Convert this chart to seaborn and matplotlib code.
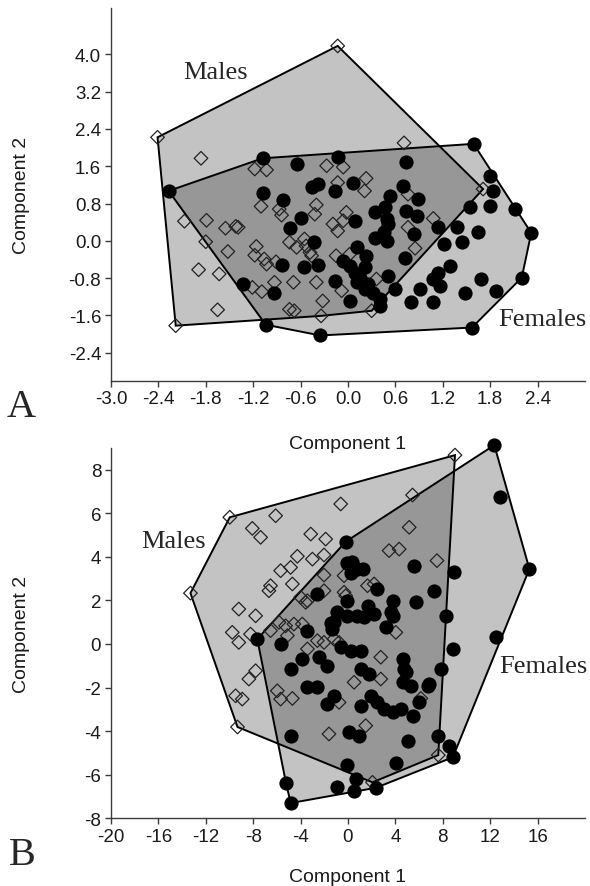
import numpy as np
import pandas as pd
import matplotlib
matplotlib.use("Agg")
import matplotlib.pyplot as plt
import seaborn as sns
from matplotlib.patches import Polygon

# ---- Panel A: component scores (Component 1, Component 2) ----
males_a_x = [-2.41, -0.13, 1.71, 0.30, -0.34, -2.18, -1.86, -1.18, -1.03, -2.07, -1.79, -1.55,
             -1.42, -1.39, -1.80, -1.52, -1.16, -1.18, -1.06, -1.03, -0.91, -1.10, -0.87, -0.84,
             -1.89, -1.63, -1.21, -1.09, -0.93, -0.69, -1.65, -0.74, -0.68, -0.74, -0.65, -0.53,
             -0.40, -0.42, -0.40, -0.32, -0.27, -0.46, 0.71, -0.06, -0.13, 0.23, 0.21, -0.02,
             -0.19, -0.06, -0.13, 0.76, 1.08, 0.76, 0.85, -0.15, 0.02, -0.55, -0.48, -0.08, 0.36]
males_a_y = [2.22, 4.18, 1.11, -1.50, -1.61, -1.82, 1.77, 1.54, 1.52, 0.42, 0.44, 0.27,
             0.31, 0.29, -0.02, -0.23, -0.12, -0.31, -0.39, -0.50, -0.45, 0.74, 0.68, 0.55,
             -0.62, -0.71, -1.00, -1.09, -0.89, -0.89, -1.48, -1.47, -1.50, -0.03, -0.14, -0.11,
             0.77, 0.57, -0.89, -1.29, 1.61, -0.32, 2.10, 1.58, 1.25, 1.34, 1.07, 0.61,
             0.36, 0.43, 0.21, 1.00, 0.48, 0.29, -0.16, -0.32, -0.29, 0.04, -0.25, -1.07, -0.82]

females_a_x = [-2.27, -1.08, 1.59, 2.12, 2.32, 2.20, 1.57, -0.35, -1.04, -1.33, -0.65, -0.46,
               -0.38, -1.08, -0.82, -0.59, -0.73, -0.43, -0.83, -0.56, -0.38, -0.93, -0.13, -0.17,
               0.06, 0.73, 0.70, 0.89, 0.53, 0.47, 0.34, 0.74, 0.87, 0.09, 0.51, 0.45,
               0.34, 0.49, 0.83, 0.11, 0.23, -0.06, 0.02, 0.09, 0.21, 0.72, -0.17, 0.51,
               0.11, 0.21, 0.32, 0.40, 0.02, 0.40, 0.59, 1.14, 1.38, 1.44, 1.21, 1.55,
               1.80, 1.84, 1.80, 1.65, 1.29, 1.14, 1.08, 1.16, 0.91, 0.80, 1.08, 1.69,
               1.48, 1.88, 0.15, 0.26, 0.49]
females_a_y = [1.07, 1.77, 2.08, 0.68, 0.17, -0.79, -1.86, -2.03, -1.80, -0.92, 1.65, 1.15,
               1.22, 1.02, 0.87, 0.48, 0.27, -0.03, -0.52, -0.57, -0.52, -1.13, 1.79, 1.07,
               1.25, 1.68, 1.18, 0.89, 0.97, 0.72, 0.61, 0.64, 0.54, 0.43, 0.36, 0.18,
               0.07, 0.00, 0.14, -0.14, -0.32, -0.43, -0.54, -0.68, -0.57, -0.36, -0.86, -0.75,
               -0.89, -1.04, -1.11, -1.25, -1.29, -1.39, -1.04, 0.29, 0.29, -0.03, -0.07, 0.72,
               1.39, 1.07, 0.75, 0.18, -0.54, -0.68, -0.82, -0.97, -1.04, -1.32, -1.32, -0.81,
               -1.11, -1.07, -0.79, -0.93, 0.47]

# ---- Panel B ----
males_b_x = [-9.97, 9.03, 7.62, 2.07, -9.32, -13.29, -6.10, -0.61, -8.07, -7.37, -3.14, -1.88,
             -4.27, -3.00, -2.02, -4.84, -5.68, -4.69, -6.53, -6.67, -2.02, -3.99, -3.42, -9.21,
             -7.79, -9.76, -9.21, -8.22, -6.53, -5.82, -4.56, -5.11, -3.42, -2.58, -2.02, -1.18,
             -7.79, -8.36, -9.48, -8.92, -5.96, -5.68, -4.69, -1.60, 0.52, -0.19, 1.50, 5.45,
             5.17, 3.47, 4.32, 7.51, -0.33, 1.65, 2.21, -0.33, 4.04, -0.75, 2.77, 2.77,
             6.15, -0.75, -3.57, -2.02, -5.26, -3.85]
males_b_y = [5.81, 8.66, -5.10, -6.35, -3.81, 2.33, 5.88, 6.42, 5.30, 4.89, 5.04, 4.81,
             4.02, 3.89, 4.08, 3.51, 3.36, 2.75, 2.67, 2.44, 3.16, 2.14, 1.98, 1.60,
             1.29, 0.53, 0.07, 0.45, 0.61, 0.99, 0.91, 0.38, -0.23, 0.15, 0.07, 0.22,
             -1.23, -1.61, -2.38, -2.53, -2.15, -2.53, -2.50, -4.13, -1.76, 2.21, -3.75, 6.83,
             5.35, 4.28, 4.35, 3.82, 3.13, 2.67, 2.75, 2.37, 0.53, 0.07, -0.61, -1.61,
             -2.50, -2.68, 1.91, 2.44, 0.83, 0.91]

females_b_x = [12.35, 12.86, 15.31, 12.49, 8.85, -4.83, -5.22, -7.65, -0.19, -2.58, -0.89, 0.52,
               0.70, 2.35, -0.04, 4.04, 8.55, 7.57, 5.03, 0.38, 0.80, 1.23, -0.04, 0.24,
               -0.04, -0.89, 0.80, 1.36, -3.42, -1.31, -5.68, -3.85, -4.84, -2.44, -1.73, -0.61,
               0.24, 1.08, 1.08, -3.42, -2.58, -1.73, -1.18, -4.84, 0.09, 0.94, 1.08, 2.49,
               3.76, 5.59, 5.73, 7.28, 8.97, 8.27, 8.83, 7.85, 6.72, -0.04, 2.21, 3.62,
               3.76, 3.20, 1.78, 4.61, 4.74, 4.61, 5.31, 1.93, 2.49, 3.05, 3.76, 4.46,
               5.45, 6.01, -1.45, 4.89, 6.86, 1.65, -1.18]
females_b_y = [9.12, 6.72, 3.44, 0.30, -5.20, -7.30, -6.40, 0.22, 4.69, 2.28, -6.55, -6.73,
               -6.20, -6.60, -5.57, -5.45, -4.67, -4.21, -4.44, 3.74, 3.44, 3.44, 3.70, 3.27,
               1.98, 1.45, 1.29, 1.22, 0.61, 0.68, 0.00, -0.69, -1.15, -0.61, -1.00, -0.16,
               -0.31, -0.31, -1.15, -1.99, -1.99, -2.76, -2.38, -4.21, -4.06, -4.21, -2.83, 2.52,
               1.98, 3.59, 1.91, 2.44, 3.28, 1.29, -0.23, -1.15, -1.92, 1.29, 1.37, 1.45,
               1.29, 0.76, -1.38, -0.69, -1.15, -1.76, -1.92, -2.38, -2.68, -2.99, -3.14, -2.99,
               -3.29, -2.68, 0.94, -1.30, -1.84, 1.75, 1.01]

ticks_a_x = [-3.0, -2.4, -1.8, -1.2, -0.6, 0.0, 0.6, 1.2, 1.8, 2.4]
ticks_a_y = [-2.4, -1.6, -0.8, 0.0, 0.8, 1.6, 2.4, 3.2, 4.0]
ticks_b_x = [-20, -16, -12, -8, -4, 0, 4, 8, 12, 16]
ticks_b_y = [-8, -6, -4, -2, 0, 2, 4, 6, 8]

LIGHT = "#c3c3c3"
DARK = "#979797"
AXCOL = "#3c3c3c"

sns.set_theme(style="white")
plt.rcParams["font.family"] = ["Liberation Sans", "DejaVu Sans"]


def convex_hull(xs, ys):
    pts = sorted(set(zip(xs, ys)))

    def cross(o, a, b):
        return (a[0] - o[0]) * (b[1] - o[1]) - (a[1] - o[1]) * (b[0] - o[0])

    lower, upper = [], []
    for p in pts:
        while len(lower) >= 2 and cross(lower[-2], lower[-1], p) <= 0:
            lower.pop()
        lower.append(p)
    for p in reversed(pts):
        while len(upper) >= 2 and cross(upper[-2], upper[-1], p) <= 0:
            upper.pop()
        upper.append(p)
    return lower[:-1] + upper[:-1]


def draw_panel(ax, mx, my, fx, fy):
    hm = convex_hull(mx, my)
    hf = convex_hull(fx, fy)
    pm = Polygon(hm, closed=True, facecolor=LIGHT, edgecolor="none", zorder=1)
    pf = Polygon(hf, closed=True, facecolor=LIGHT, edgecolor="none", zorder=1)
    ax.add_patch(pm)
    ax.add_patch(pf)
    # overlap of the two hulls is darker
    ov = Polygon(hf, closed=True, facecolor=DARK, edgecolor="none", zorder=2)
    ax.add_patch(ov)
    ov.set_clip_path(pm)
    for h in (hm, hf):
        ax.add_patch(Polygon(h, closed=True, fill=False, edgecolor="black", lw=1.4, zorder=3))

    dm = pd.DataFrame({"c1": mx, "c2": my})
    dfm = pd.DataFrame({"c1": fx, "c2": fy})
    sns.scatterplot(data=dm, x="c1", y="c2", marker="D", s=48, color="#222222",
                    facecolor="none", edgecolor="#222222", linewidth=0.9,
                    ax=ax, zorder=4, clip_on=False)
    sns.scatterplot(data=dfm, x="c1", y="c2", marker="o", s=105, color="black",
                    edgecolor="black", linewidth=0, ax=ax, zorder=5, clip_on=False)


def style_axes(ax, xt, yt, fmt):
    sns.despine(ax=ax)
    for s in ("left", "bottom"):
        ax.spines[s].set_color(AXCOL)
        ax.spines[s].set_linewidth(1.0)
    ax.set_xticks(xt)
    ax.set_yticks(yt)
    ax.set_xticklabels([fmt(v) for v in xt])
    ax.set_yticklabels([fmt(v) for v in yt])
    ax.tick_params(direction="out", length=4, width=1.0, color=AXCOL,
                   labelsize=13.5, labelcolor="#1a1a1a", pad=3, left=True, bottom=True)
    ax.set_xlabel("Component 1", fontsize=14, color="#1a1a1a")
    ax.set_ylabel("Component 2", fontsize=14, color="#1a1a1a")
    ax.grid(False)
    ax.patch.set_visible(False)


fig = plt.figure(figsize=(5.9, 8.87), dpi=100)
serif = ["Liberation Serif", "DejaVu Serif"]

# Panel A
axa = fig.add_axes([0.188, 0.5697, 0.8035, 0.4205])
draw_panel(axa, males_a_x, males_a_y, females_a_x, females_a_y)
axa.set_xlim(-3.0, 3.0)
axa.set_ylim(-3.0, 5.0)
style_axes(axa, ticks_a_x, ticks_a_y, lambda v: f"{v + 0.0:.1f}")
axa.xaxis.set_label_coords(0.5, -0.145)
axa.yaxis.set_label_coords(-0.17, 0.5)
axa.text(-2.09, 3.61, "Males", family=serif, fontsize=19, va="center", ha="left", zorder=6)
axa.text(1.90, -1.68, "Females", family=serif, fontsize=19, va="center", ha="left", zorder=6)

# Panel B
axb = fig.add_axes([0.188, 0.0763, 0.8035, 0.4178])
draw_panel(axb, males_b_x, males_b_y, females_b_x, females_b_y)
axb.set_xlim(-20, 20)
axb.set_ylim(-8, 9)
style_axes(axb, ticks_b_x, ticks_b_y, lambda v: f"{v:d}")
axb.xaxis.set_label_coords(0.5, -0.133)
axb.yaxis.set_label_coords(-0.17, 0.5)
axb.text(-12.0, 4.73, "Males", family=serif, fontsize=19, va="center", ha="right", zorder=6)
axb.text(12.77, -1.03, "Females", family=serif, fontsize=19, va="center", ha="left", zorder=6)

fig.text(0.012, 1 - 417 / 887, "A", family=serif, fontsize=29, va="baseline", ha="left")
fig.text(0.015, 1 - 865 / 887, "B", family=serif, fontsize=29, va="baseline", ha="left")

fig.savefig("out.png", dpi=100)
